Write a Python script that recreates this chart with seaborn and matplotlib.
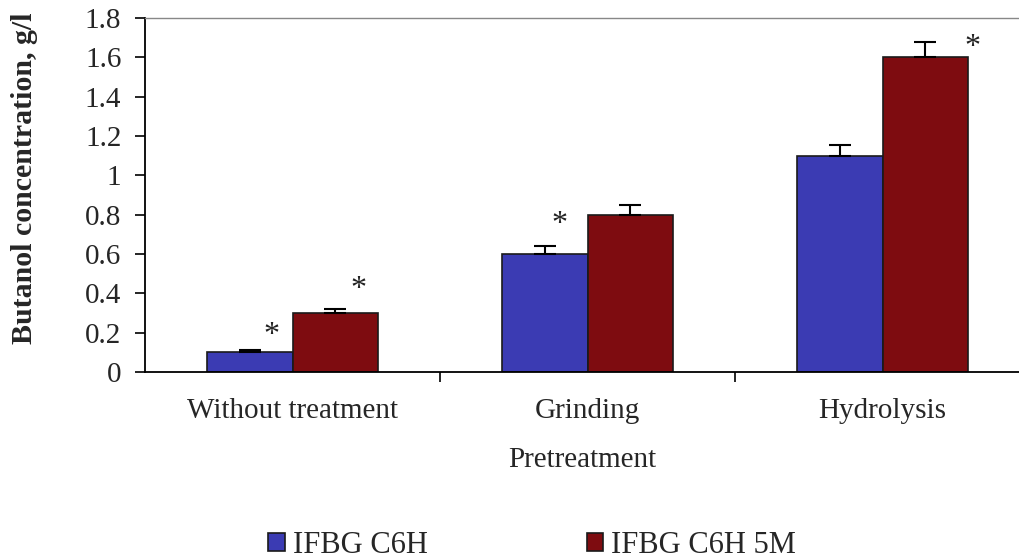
import pandas as pd
import matplotlib
matplotlib.use('Agg')
import matplotlib.pyplot as plt
import seaborn as sns

# data
categories = ['Without treatment', 'Grinding', 'Hydrolysis']
series = ['IFBG C6H', 'IFBG C6H 5M']
c6h = [0.1, 0.6, 1.1]
c6h_5m = [0.3, 0.8, 1.6]
c6h_err = [0.01, 0.04, 0.055]
c6h_5m_err = [0.02, 0.05, 0.08]
yticks = [0, 0.2, 0.4, 0.6, 0.8, 1, 1.2, 1.4, 1.6, 1.8]
# significance stars: (category index, series index, height)
stars = [(0, 0, 0.185), (0, 1, 0.42), (1, 0, 0.75), (2, 1, 1.65)]
star_dx = [0.075, 0.08, 0.05, 0.16]

df = pd.DataFrame({
    'Pretreatment': categories * 2,
    'Series': [series[0]] * 3 + [series[1]] * 3,
    'Value': c6h + c6h_5m,
})

sns.set_style('white')
plt.rcParams['font.family'] = ['Liberation Serif', 'DejaVu Serif']

fig = plt.figure(figsize=(10.19, 5.6), dpi=100)
ax = fig.add_axes([145 / 1019, 188 / 560, (1019 - 145) / 1019, (372 - 18) / 560])

colors = ['#3B3BB3', '#7E0C10']
sns.barplot(data=df, x='Pretreatment', y='Value', hue='Series', palette=colors,
            width=0.58, errorbar=None, edgecolor='#1a1a1a', linewidth=1.2,
            saturation=1, ax=ax)

bars = [list(c) for c in ax.containers]

# error bars at bar tops
errs = [c6h_err, c6h_5m_err]
for s, cont in enumerate(bars):
    for i, bar in enumerate(cont):
        xc = bar.get_x() + bar.get_width() / 2
        ax.errorbar(xc, bar.get_height(), yerr=[[0], [errs[s][i]]], fmt='none',
                    ecolor='black', elinewidth=1.5, capsize=8, capthick=1.5)

for (ci, si, h), dx in zip(stars, star_dx):
    bar = bars[si][ci]
    xc = bar.get_x() + bar.get_width() / 2 + dx
    ax.text(xc, h, '*', ha='center', va='center', fontsize=23, color='#222222')

ax.set_xlim(-0.5, (1019 - 145) / 295 - 0.5)
ax.set_ylim(0, 1.8)
ax.set_yticks(yticks)
ax.set_yticklabels(['{:g}'.format(t) for t in yticks], fontsize=21)
ax.set_xticks([0.5, 1.5], minor=True)
ax.set_xticks(range(len(categories)))
ax.set_xticklabels(categories, fontsize=21)
ax.tick_params(axis='x', which='major', length=0, pad=19)
ax.tick_params(axis='x', which='minor', length=7, width=1.2, direction='out', color='black', bottom=True)
ax.tick_params(axis='y', length=7, width=1.2, direction='out', color='black', left=True, pad=10)

ax.set_xlabel('Pretreatment', fontsize=21, labelpad=16)
ax.set_ylabel('Butanol concentration, g/l', fontsize=21.5, fontweight='bold')
ax.yaxis.set_label_coords(-0.122, 0.548)

for sp in ['left', 'bottom']:
    ax.spines[sp].set_color('black')
    ax.spines[sp].set_linewidth(1.3)
ax.spines['top'].set_color('#888888')
ax.spines['top'].set_linewidth(1.0)
ax.spines['right'].set_visible(False)

ax.legend(loc='center', bbox_to_anchor=(0.443, -0.489), ncol=2, frameon=False,
          fontsize=22, handlelength=0.55, handleheight=0.55, handletextpad=0.25,
          columnspacing=5.2)

fig.savefig('out.png', dpi=100)
